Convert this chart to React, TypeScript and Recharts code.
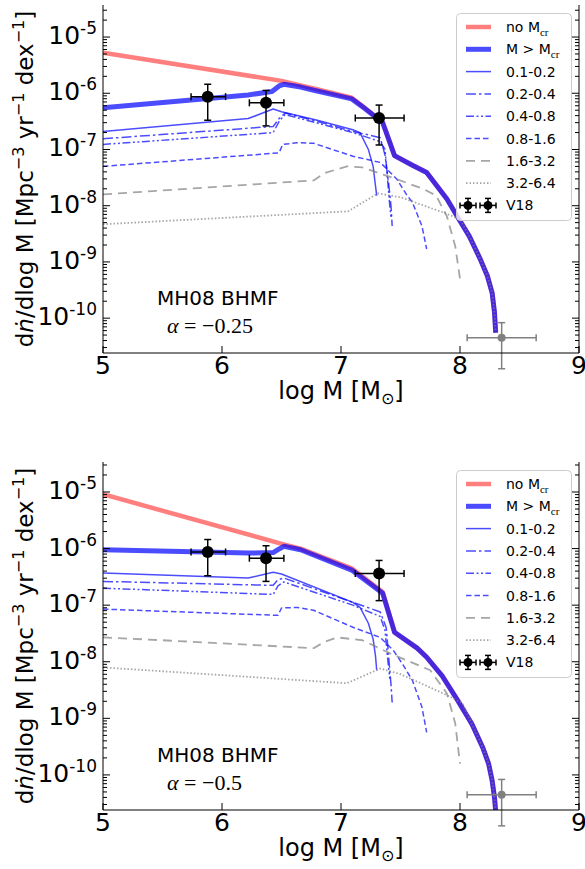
import React from 'react';
import { ComposedChart, Line, Scatter, XAxis, YAxis, ErrorBar } from 'recharts';

// all y values are log10(dn/dlogM), x values are log10 M
const xTicks = [5, 6, 7, 8, 9];
const yMajor = [-11, -10, -9, -8, -7, -6, -5];
const minorMult = [2, 3, 4, 5, 6, 7, 8, 9];

// ---- top panel, alpha = -0.25 ----
const aNoMcrX = [5, 6.5, 6.66, 6.78, 7.09, 7.2, 7.35, 7.45, 7.6, 7.72, 7.89, 7.98, 8.08, 8.17, 8.23, 8.27, 8.29, 8.3];
const aNoMcrY = [-5.28, -5.78, -5.86, -5.92, -6.08, -6.26, -6.52, -7.11, -7.28, -7.41, -7.88, -8.2, -8.55, -8.95, -9.25, -9.55, -9.9, -10.26];
const aAllX = [5, 6.22, 6.42, 6.48, 6.52, 6.66, 6.78, 7.09, 7.2, 7.35, 7.45, 7.6, 7.72, 7.89, 7.98, 8.08, 8.17, 8.23, 8.27, 8.29, 8.3];
const aAllY = [-6.26, -6.03, -5.97, -5.87, -5.84, -5.89, -5.95, -6.1, -6.27, -6.52, -7.11, -7.28, -7.41, -7.88, -8.2, -8.55, -8.95, -9.25, -9.55, -9.9, -10.26];
const a01X = [5, 6.22, 6.43, 6.5, 6.8, 7.1, 7.16, 7.23, 7.27, 7.29, 7.3];
const a01Y = [-6.68, -6.45, -6.28, -6.33, -6.48, -6.65, -6.7, -7.0, -7.3, -7.65, -7.82];
const a02X = [5, 6.43, 6.48, 6.53, 6.8, 7.1, 7.25, 7.33, 7.37, 7.4, 7.42, 7.43];
const a02Y = [-6.81, -6.59, -6.45, -6.35, -6.5, -6.68, -6.75, -6.79, -7.1, -7.6, -8.0, -8.36];
const a04X = [5, 6.43, 6.48, 6.53, 6.8, 7.1, 7.33, 7.37, 7.39, 7.41, 7.42];
const a04Y = [-6.91, -6.7, -6.5, -6.38, -6.53, -6.7, -6.86, -7.0, -7.5, -8.0, -8.2];
const a08X = [5, 6.48, 6.51, 6.63, 6.77, 7.1, 7.33, 7.47, 7.55, 7.6, 7.68, 7.72];
const a08Y = [-7.3, -7.06, -6.91, -6.88, -6.89, -7.12, -7.23, -7.53, -7.8, -7.94, -8.36, -8.77];
const a16X = [5, 6.77, 6.86, 7.05, 7.18, 7.47, 7.69, 7.8, 7.89, 7.96, 8.0];
const a16Y = [-7.8, -7.55, -7.42, -7.3, -7.32, -7.53, -7.7, -7.82, -8.19, -8.72, -9.3];
const a32X = [5, 7.06, 7.31, 7.5, 7.86, 8.0, 8.08, 8.17, 8.23, 8.27, 8.29, 8.3];
const a32Y = [-8.33, -8.1, -7.78, -7.85, -8.12, -8.24, -8.55, -8.95, -9.25, -9.55, -9.9, -10.26];

// ---- bottom panel, alpha = -0.5 ----
const bNoMcrX = [5, 6.51, 6.66, 7.09, 7.35, 7.45, 7.64, 7.72, 7.85, 7.98, 8.1, 8.19, 8.24, 8.27, 8.29, 8.3];
const bNoMcrY = [-5.04, -5.92, -6.0, -6.35, -6.77, -7.48, -7.76, -7.92, -8.25, -8.68, -9.1, -9.51, -9.8, -10.1, -10.4, -10.65];
const bAllX = [5, 6.22, 6.43, 6.47, 6.52, 6.66, 7.09, 7.35, 7.45, 7.64, 7.72, 7.85, 7.98, 8.1, 8.19, 8.24, 8.27, 8.29, 8.3];
const bAllY = [-6.02, -6.08, -6.07, -6.02, -5.96, -6.02, -6.38, -6.79, -7.48, -7.76, -7.92, -8.25, -8.68, -9.1, -9.51, -9.8, -10.1, -10.4, -10.65];
const b01X = [5, 6.22, 6.43, 6.5, 7.1, 7.16, 7.23, 7.27, 7.29, 7.3];
const b01Y = [-6.43, -6.52, -6.42, -6.45, -6.95, -7.04, -7.32, -7.6, -7.9, -8.15];
const b02X = [5, 6.43, 6.47, 6.52, 7.1, 7.33, 7.38, 7.4, 7.42, 7.43];
const b02Y = [-6.58, -6.65, -6.55, -6.52, -6.95, -7.12, -7.4, -7.9, -8.4, -8.72];
const b04X = [5, 6.43, 6.47, 6.52, 7.1, 7.33, 7.37, 7.39, 7.41];
const b04Y = [-6.7, -6.81, -6.66, -6.59, -7.0, -7.2, -7.45, -7.9, -8.3];
const b08X = [5, 6.47, 6.5, 6.63, 6.77, 7.1, 7.33, 7.44, 7.52, 7.6, 7.68, 7.72];
const b08Y = [-7.07, -7.18, -7.05, -7.04, -7.09, -7.39, -7.57, -7.8, -8.05, -8.33, -8.8, -9.25];
const b16X = [5, 5.5, 6.77, 6.86, 6.97, 7.18, 7.41, 7.75, 7.89, 7.96, 8.0];
const b16Y = [-7.57, -7.62, -7.76, -7.65, -7.57, -7.62, -7.85, -8.15, -8.56, -9.09, -9.8];
const b32X = [5, 7.05, 7.33, 7.5, 7.86, 8.02, 8.1, 8.19, 8.24, 8.27, 8.29, 8.3];
const b32Y = [-8.1, -8.38, -8.12, -8.22, -8.56, -8.73, -9.1, -9.51, -9.8, -10.1, -10.4, -10.65];

// ---- V18 points (same in both panels) ----
const v18M = [5.88, 6.37, 7.32];
const v18MLo = [5.74, 6.23, 7.12];
const v18MHi = [6.03, 6.52, 7.53];
const v18Phi = [-6.06, -6.17, -6.44];
const v18PhiLo = [-6.48, -6.58, -6.92];
const v18PhiHi = [-5.84, -5.95, -6.21];
const greyM = [8.35];
const greyMLo = [8.06];
const greyMHi = [8.64];
const greyPhi = [-10.35];
const greyPhiLo = [-10.9];
const greyPhiHi = [-10.08];

const legendNames = ['0.1-0.2', '0.2-0.4', '0.4-0.8', '0.8-1.6', '1.6-3.2', '3.2-6.4'];

const W = 585;
const H = 400;
const FONT = 'DejaVu Sans';

const styles: Record<string, any> = {
  noMcr: { stroke: '#ff0000', strokeOpacity: 0.5, strokeWidth: 4.5 },
  all: { stroke: '#0000ff', strokeOpacity: 0.7, strokeWidth: 5 },
  s01: { stroke: '#0000ff', strokeOpacity: 0.7, strokeWidth: 1.5 },
  s02: { stroke: '#0000ff', strokeOpacity: 0.7, strokeWidth: 1.5, strokeDasharray: '10 3 2.5 3' },
  s04: { stroke: '#0000ff', strokeOpacity: 0.7, strokeWidth: 1.5, strokeDasharray: '8 2.5 2 2.5 2 2.5' },
  s08: { stroke: '#0000ff', strokeOpacity: 0.7, strokeWidth: 1.5, strokeDasharray: '5.5 3' },
  s16: { stroke: '#808080', strokeOpacity: 0.7, strokeWidth: 1.8, strokeDasharray: '9 6' },
  s32: { stroke: '#808080', strokeOpacity: 0.7, strokeWidth: 1.8, strokeDasharray: '1.5 2' },
};

const pts = (xs: number[], ys: number[]) => xs.map((x, i) => ({ x, y: ys[i] }));

const errPts = (m: number[], mLo: number[], mHi: number[], p: number[], pLo: number[], pHi: number[]) =>
  m.map((x, i) => ({
    x,
    y: p[i],
    ex: [x - mLo[i], mHi[i] - x],
    ey: [p[i] - pLo[i], pHi[i] - p[i]],
  }));

const topSeries = [
  { key: 'noMcr', data: pts(aNoMcrX, aNoMcrY) },
  { key: 'all', data: pts(aAllX, aAllY) },
  { key: 's01', data: pts(a01X, a01Y) },
  { key: 's02', data: pts(a02X, a02Y) },
  { key: 's04', data: pts(a04X, a04Y) },
  { key: 's08', data: pts(a08X, a08Y) },
  { key: 's16', data: pts(a16X, a16Y) },
  { key: 's32', data: pts(a32X, a32Y) },
];
const bottomSeries = [
  { key: 'noMcr', data: pts(bNoMcrX, bNoMcrY) },
  { key: 'all', data: pts(bAllX, bAllY) },
  { key: 's01', data: pts(b01X, b01Y) },
  { key: 's02', data: pts(b02X, b02Y) },
  { key: 's04', data: pts(b04X, b04Y) },
  { key: 's08', data: pts(b08X, b08Y) },
  { key: 's16', data: pts(b16X, b16Y) },
  { key: 's32', data: pts(b32X, b32Y) },
];

const v18 = errPts(v18M, v18MLo, v18MHi, v18Phi, v18PhiLo, v18PhiHi);
const greyPt = errPts(greyM, greyMLo, greyMHi, greyPhi, greyPhiLo, greyPhiHi);

const yTicksFor = (d: number[]) => {
  const out: number[] = [];
  yMajor.forEach((n) => {
    out.push(n);
    minorMult.forEach((k) => out.push(n + Math.log10(k)));
  });
  return out.filter((v) => v >= d[0] && v <= d[1]);
};

const LeftTick = (p: any) => {
  const { x, y, payload } = p;
  const major = Number.isInteger(payload.value);
  return (
    <g>
      <line x1={x} x2={x + (major ? 7 : 4)} y1={y} y2={y} stroke="#000" strokeWidth={1} />
      {major && (
        <text x={x - 6} y={y + 7} textAnchor="end" fontSize={25} fill="#000" fontFamily={FONT}>
          10<tspan dy={-10} fontSize={17}>{payload.value}</tspan>
        </text>
      )}
    </g>
  );
};

const RightTick = (p: any) => {
  const { x, y, payload } = p;
  const major = Number.isInteger(payload.value);
  return <line x1={x} x2={x - (major ? 7 : 4)} y1={y} y2={y} stroke="#000" strokeWidth={1} />;
};

const BottomTick = (p: any) => {
  const { x, y, payload } = p;
  return (
    <g>
      <line x1={x} x2={x} y1={y} y2={y - 7} stroke="#000" strokeWidth={1} />
      <text x={x} y={y + 21} textAnchor="middle" fontSize={25} fill="#000" fontFamily={FONT}>
        {payload.value}
      </text>
    </g>
  );
};

const TopTick = (p: any) => {
  const { x, y } = p;
  return <line x1={x} x2={x} y1={y} y2={y + 7} stroke="#000" strokeWidth={1} />;
};

const Dot = (color: string, r: number) => (props: any) => <circle cx={props.cx} cy={props.cy} r={r} fill={color} />;

const Panel = ({ top, series, domain }: { top: number; series: any[]; domain: number[] }) => {
  const ticks = yTicksFor(domain);
  return (
    <div style={{ position: 'absolute', left: 0, top }}>
      <ComposedChart width={W} height={H} margin={{ top: 5, right: 0, bottom: 0, left: 0 }}>
        <XAxis xAxisId="b" type="number" dataKey="x" domain={[5, 9]} ticks={xTicks} interval={0} height={47}
          tickSize={0} tickMargin={0} tickLine={false} tick={BottomTick} axisLine={{ stroke: '#000' }} allowDataOverflow />
        <XAxis xAxisId="t" orientation="top" type="number" dataKey="x" domain={[5, 9]} ticks={xTicks} interval={0} height={0}
          tickSize={0} tickMargin={0} tickLine={false} tick={TopTick} axisLine={{ stroke: '#000' }} allowDataOverflow />
        <YAxis yAxisId="l" type="number" dataKey="y" domain={domain} ticks={ticks} interval={0} width={103}
          tickSize={0} tickMargin={0} tickLine={false} tick={LeftTick} axisLine={{ stroke: '#000' }} allowDataOverflow />
        <YAxis yAxisId="r" orientation="right" type="number" dataKey="y" domain={domain} ticks={ticks} interval={0} width={6}
          tickSize={0} tickMargin={0} tickLine={false} tick={RightTick} axisLine={{ stroke: '#000' }} allowDataOverflow />
        {series.map((s) => (
          <Line key={s.key} xAxisId="b" yAxisId="l" data={s.data} dataKey="y" type="linear" dot={false} activeDot={false}
            strokeLinejoin="round" isAnimationActive={false} {...styles[s.key]} />
        ))}
        <Scatter xAxisId="b" yAxisId="l" data={greyPt} shape={Dot('#808080', 4)} isAnimationActive={false}>
          <ErrorBar dataKey="ex" direction="x" width={3.5} stroke="#808080" strokeWidth={1.5} isAnimationActive={false} />
          <ErrorBar dataKey="ey" direction="y" width={3.5} stroke="#808080" strokeWidth={1.5} isAnimationActive={false} />
        </Scatter>
        <Scatter xAxisId="b" yAxisId="l" data={v18} shape={Dot('#000', 6)} isAnimationActive={false}>
          <ErrorBar dataKey="ex" direction="x" width={3.5} stroke="#000" strokeWidth={1.5} isAnimationActive={false} />
          <ErrorBar dataKey="ey" direction="y" width={3.5} stroke="#000" strokeWidth={1.5} isAnimationActive={false} />
        </Scatter>
      </ComposedChart>
    </div>
  );
};

const Sub = ({ children }: { children: string }) => (
  <tspan dy={4} fontSize={11} fontFamily="Liberation Serif">{children}</tspan>
);

const Labels = ({ oy, alpha }: { oy: number; alpha: string }) => {
  const row = (i: number) => oy + 27 + i * 22.3;
  const lineKeys = ['s01', 's02', 's04', 's08', 's16', 's32'];
  const vy = row(8);
  return (
    <g fontFamily={FONT} fill="#000">
      <text transform={`translate(33, ${oy + 179}) rotate(-90)`} textAnchor="middle" fontSize={23}>
        d<tspan fontStyle="italic">ṅ</tspan>/dlog M [Mpc<tspan dy={-9} fontSize={16}>−3</tspan>
        <tspan dy={9}> yr</tspan><tspan dy={-9} fontSize={16}>−1</tspan>
        <tspan dy={9}> dex</tspan><tspan dy={-9} fontSize={16}>−1</tspan><tspan dy={9}>]</tspan>
      </text>
      <text x={341} y={oy + 399} textAnchor="middle" fontSize={24}>
        log M [M<tspan dy={5} fontSize={16}>⊙</tspan><tspan dy={-5}>]</tspan>
      </text>
      <text x={157} y={oy + 305} fontSize={20}>MH08 BHMF</text>
      <text x={167} y={oy + 333} fontSize={22} fontFamily="Liberation Serif">
        <tspan fontStyle="italic">α</tspan> = −{alpha}
      </text>

      <rect x={456.5} y={oy + 13.5} width={115} height={207} rx={4} fill="#fff" fillOpacity={0.8} stroke="#cccccc" />
      <line x1={466} x2={491} y1={row(0)} y2={row(0)} {...styles.noMcr} />
      <text x={506} y={row(0) + 5} fontSize={14}>no M<Sub>cr</Sub></text>
      <line x1={466} x2={491} y1={row(1)} y2={row(1)} {...styles.all} />
      <text x={506} y={row(1) + 5} fontSize={14}>M &gt; M<Sub>cr</Sub></text>
      {legendNames.map((n, i) => (
        <g key={n}>
          <line x1={466} x2={491} y1={row(i + 2)} y2={row(i + 2)} {...styles[lineKeys[i]]} />
          <text x={506} y={row(i + 2) + 5} fontSize={14}>{n}</text>
        </g>
      ))}
      {[468, 488].map((cx) => (
        <g key={cx} stroke="#000" strokeWidth={1.5}>
          <line x1={cx - 8} x2={cx + 8} y1={vy} y2={vy} />
          <line x1={cx - 8} x2={cx - 8} y1={vy - 3} y2={vy + 3} />
          <line x1={cx + 8} x2={cx + 8} y1={vy - 3} y2={vy + 3} />
          <line x1={cx} x2={cx} y1={vy - 7} y2={vy + 7} />
          <line x1={cx - 3} x2={cx + 3} y1={vy - 7} y2={vy - 7} />
          <line x1={cx - 3} x2={cx + 3} y1={vy + 7} y2={vy + 7} />
          <circle cx={cx} cy={vy} r={4.5} fill="#000" stroke="none" />
        </g>
      ))}
      <text x={506} y={vy + 5} fontSize={14}>V18</text>
    </g>
  );
};

const App = () => (
  <div style={{ position: 'absolute', left: 0, top: 0, width: 585, height: 869, background: '#fff', fontFamily: FONT }}>
    <Panel top={0} series={topSeries} domain={[-10.62, -4.43]} />
    <Panel top={457} series={bottomSeries} domain={[-10.62, -4.47]} />
    <svg width={585} height={869} style={{ position: 'absolute', left: 0, top: 0, pointerEvents: 'none' }}>
      <Labels oy={0} alpha="0.25" />
      <Labels oy={457} alpha="0.5" />
    </svg>
  </div>
);

export default App;
